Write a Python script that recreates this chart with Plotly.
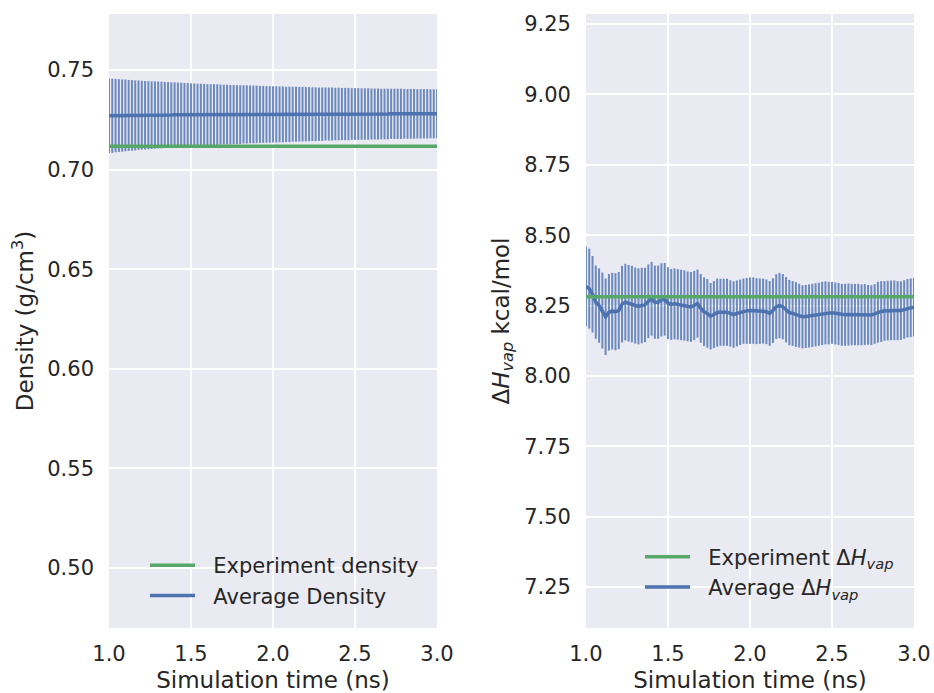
import plotly.graph_objects as go

time_ns = [1.00, 1.02, 1.04, 1.06, 1.08, 1.10, 1.12, 1.14, 1.16, 1.18,
           1.20, 1.22, 1.24, 1.26, 1.28, 1.30, 1.32, 1.34, 1.36, 1.38,
           1.40, 1.42, 1.44, 1.46, 1.48, 1.50, 1.52, 1.54, 1.56, 1.58,
           1.60, 1.62, 1.64, 1.66, 1.68, 1.70, 1.72, 1.74, 1.76, 1.78,
           1.80, 1.82, 1.84, 1.86, 1.88, 1.90, 1.92, 1.94, 1.96, 1.98,
           2.00, 2.02, 2.04, 2.06, 2.08, 2.10, 2.12, 2.14, 2.16, 2.18,
           2.20, 2.22, 2.24, 2.26, 2.28, 2.30, 2.32, 2.34, 2.36, 2.38,
           2.40, 2.42, 2.44, 2.46, 2.48, 2.50, 2.52, 2.54, 2.56, 2.58,
           2.60, 2.62, 2.64, 2.66, 2.68, 2.70, 2.72, 2.74, 2.76, 2.78,
           2.80, 2.82, 2.84, 2.86, 2.88, 2.90, 2.92, 2.94, 2.96, 2.98,
           3.00]

density_mean = [0.7270, 0.7270, 0.7271, 0.7271, 0.7271, 0.7272, 0.7272, 0.7272, 0.7272, 0.7273,
                0.7273, 0.7273, 0.7273, 0.7273, 0.7274, 0.7274, 0.7274, 0.7274, 0.7274, 0.7274,
                0.7275, 0.7275, 0.7275, 0.7275, 0.7275, 0.7275, 0.7275, 0.7275, 0.7275, 0.7275,
                0.7275, 0.7276, 0.7276, 0.7276, 0.7276, 0.7276, 0.7276, 0.7276, 0.7276, 0.7276,
                0.7276, 0.7277, 0.7277, 0.7277, 0.7277, 0.7277, 0.7277, 0.7277, 0.7277, 0.7277,
                0.7277, 0.7277, 0.7277, 0.7277, 0.7277, 0.7277, 0.7278, 0.7278, 0.7278, 0.7278,
                0.7278, 0.7278, 0.7278, 0.7278, 0.7278, 0.7278, 0.7279, 0.7279, 0.7279, 0.7279,
                0.7279, 0.7279, 0.7279, 0.7279, 0.7279, 0.7279, 0.7279, 0.7279, 0.7279, 0.7279,
                0.7279, 0.7279, 0.7279, 0.7279, 0.7279, 0.7279, 0.7280, 0.7280, 0.7280, 0.7280,
                0.7280, 0.7280, 0.7280, 0.7280, 0.7280, 0.7280, 0.7280, 0.7280, 0.7280, 0.7280,
                0.7280]

density_err = [0.0187, 0.0186, 0.0184, 0.0183, 0.0181, 0.0180, 0.0178, 0.0177, 0.0176, 0.0174,
               0.0173, 0.0172, 0.0171, 0.0170, 0.0169, 0.0168, 0.0167, 0.0166, 0.0165, 0.0164,
               0.0163, 0.0162, 0.0161, 0.0160, 0.0159, 0.0158, 0.0157, 0.0156, 0.0156, 0.0155,
               0.0154, 0.0153, 0.0153, 0.0152, 0.0151, 0.0150, 0.0150, 0.0149, 0.0148, 0.0148,
               0.0147, 0.0146, 0.0146, 0.0145, 0.0145, 0.0144, 0.0143, 0.0143, 0.0142, 0.0142,
               0.0141, 0.0141, 0.0140, 0.0140, 0.0139, 0.0139, 0.0138, 0.0138, 0.0137, 0.0137,
               0.0136, 0.0136, 0.0135, 0.0135, 0.0134, 0.0134, 0.0133, 0.0133, 0.0133, 0.0132,
               0.0132, 0.0131, 0.0131, 0.0131, 0.0130, 0.0130, 0.0130, 0.0129, 0.0129, 0.0129,
               0.0128, 0.0128, 0.0128, 0.0127, 0.0127, 0.0127, 0.0126, 0.0126, 0.0126, 0.0126,
               0.0125, 0.0125, 0.0125, 0.0125, 0.0124, 0.0124, 0.0124, 0.0124, 0.0123, 0.0123,
               0.0123]

hvap_mean = [8.318, 8.310, 8.290, 8.262, 8.250, 8.232, 8.210, 8.226, 8.230, 8.228,
             8.232, 8.255, 8.262, 8.258, 8.255, 8.250, 8.247, 8.250, 8.252, 8.265,
             8.274, 8.262, 8.262, 8.270, 8.272, 8.258, 8.254, 8.256, 8.254, 8.252,
             8.250, 8.247, 8.245, 8.250, 8.257, 8.240, 8.228, 8.222, 8.212, 8.218,
             8.225, 8.226, 8.226, 8.226, 8.222, 8.218, 8.222, 8.226, 8.230, 8.231,
             8.232, 8.232, 8.230, 8.230, 8.230, 8.228, 8.222, 8.232, 8.246, 8.250,
             8.246, 8.235, 8.225, 8.222, 8.218, 8.214, 8.210, 8.211, 8.213, 8.215,
             8.217, 8.219, 8.222, 8.224, 8.223, 8.224, 8.222, 8.220, 8.217, 8.217,
             8.218, 8.218, 8.218, 8.218, 8.217, 8.218, 8.217, 8.216, 8.220, 8.226,
             8.229, 8.231, 8.232, 8.233, 8.233, 8.232, 8.232, 8.236, 8.240, 8.242,
             8.244]

hvap_err = [0.142, 0.142, 0.136, 0.130, 0.132, 0.135, 0.136, 0.136, 0.136, 0.137,
            0.137, 0.136, 0.136, 0.136, 0.136, 0.135, 0.135, 0.134, 0.132, 0.131,
            0.131, 0.130, 0.130, 0.130, 0.129, 0.128, 0.126, 0.126, 0.125, 0.125,
            0.125, 0.124, 0.124, 0.123, 0.121, 0.122, 0.122, 0.122, 0.118, 0.119,
            0.121, 0.119, 0.119, 0.119, 0.118, 0.118, 0.117, 0.116, 0.116, 0.117,
            0.118, 0.118, 0.117, 0.116, 0.115, 0.115, 0.115, 0.115, 0.115, 0.116,
            0.116, 0.116, 0.116, 0.115, 0.115, 0.113, 0.112, 0.112, 0.112, 0.112,
            0.112, 0.112, 0.112, 0.112, 0.111, 0.110, 0.110, 0.110, 0.110, 0.110,
            0.110, 0.109, 0.109, 0.109, 0.108, 0.108, 0.106, 0.106, 0.106, 0.108,
            0.108, 0.106, 0.106, 0.106, 0.106, 0.105, 0.104, 0.104, 0.104, 0.104,
            0.104]

exp_density = 0.7117
exp_hvap = 8.281

BLUE = "#4C72B0"
GREEN = "#55A868"
TXT = "#262626"
FONT = "DejaVu Sans"
PAD = "\u00a0\u00a0"

fig = go.Figure()

fig.add_trace(go.Scatter(
    x=time_ns, y=density_mean, mode="lines", name=PAD + "Average Density",
    line=dict(color=BLUE, width=3.5),
    error_y=dict(type="data", array=density_err, visible=True,
                 color="rgba(76,114,176,0.8)", thickness=2, width=0),
    xaxis="x", yaxis="y", legend="legend", legendrank=2))
fig.add_trace(go.Scatter(
    x=time_ns, y=[exp_density] * len(time_ns), mode="lines", name=PAD + "Experiment density",
    line=dict(color=GREEN, width=3.5),
    xaxis="x", yaxis="y", legend="legend", legendrank=1))

fig.add_trace(go.Scatter(
    x=time_ns, y=hvap_mean, mode="lines",
    name=PAD + "Average Δ<i>H</i><sub><i>vap</i></sub>",
    line=dict(color=BLUE, width=3.5),
    error_y=dict(type="data", array=hvap_err, visible=True,
                 color="rgba(76,114,176,0.8)", thickness=2, width=0),
    xaxis="x2", yaxis="y2", legend="legend2", legendrank=2))
fig.add_trace(go.Scatter(
    x=time_ns, y=[exp_hvap] * len(time_ns), mode="lines",
    name=PAD + "Experiment Δ<i>H</i><sub><i>vap</i></sub>",
    line=dict(color=GREEN, width=3.5),
    xaxis="x2", yaxis="y2", legend="legend2", legendrank=1))

axis_common = dict(
    showgrid=True, gridcolor="white", gridwidth=1.8, zeroline=False,
    showline=False, ticks="", automargin=False,
    tickfont=dict(family=FONT, size=21, color=TXT),
)

fig.update_layout(
    width=934, height=693,
    margin=dict(l=109, r=20, t=14, b=65, autoexpand=False),
    paper_bgcolor="white", plot_bgcolor="#EAEAF2",
    font=dict(family=FONT, size=21, color=TXT),
    xaxis=dict(domain=[0, 0.4075], range=[1.0, 3.0], dtick=0.5, tick0=1.0,
               tickformat=".1f", ticklabelstandoff=11,
               title=dict(text="Simulation time (ns)", font=dict(size=23), standoff=10),
               anchor="y", **axis_common),
    yaxis=dict(domain=[0, 1], range=[0.4699, 0.7781], dtick=0.05, tick0=0.5,
               tickformat=".2f", ticklabelstandoff=14,
               title=dict(text="Density (g/cm<sup>3</sup>)", font=dict(size=23), standoff=7),
               anchor="x", **axis_common),
    xaxis2=dict(domain=[0.5925, 1.0], range=[1.0, 3.0], dtick=0.5, tick0=1.0,
                tickformat=".1f", ticklabelstandoff=11,
                title=dict(text="Simulation time (ns)", font=dict(size=23), standoff=10),
                anchor="y2", **axis_common),
    yaxis2=dict(domain=[0, 1], range=[7.1046, 9.2855], dtick=0.25, tick0=7.25,
                tickformat=".2f", ticklabelstandoff=14,
                title=dict(text="Δ<i>H</i><sub><i>vap</i></sub> kcal/mol", font=dict(size=23), standoff=8),
                anchor="x2", **axis_common),
    legend=dict(x=0.0447, y=0.135, xanchor="left", yanchor="top",
                bgcolor="rgba(0,0,0,0)", borderwidth=0,
                font=dict(family=FONT, size=21, color=TXT), itemwidth=45,
                traceorder="normal"),
    legend2=dict(x=0.6596, y=0.149, xanchor="left", yanchor="top",
                 bgcolor="rgba(0,0,0,0)", borderwidth=0,
                 font=dict(family=FONT, size=21, color=TXT), itemwidth=45,
                 traceorder="normal"),
    showlegend=True,
)

fig.write_html("out.html")
